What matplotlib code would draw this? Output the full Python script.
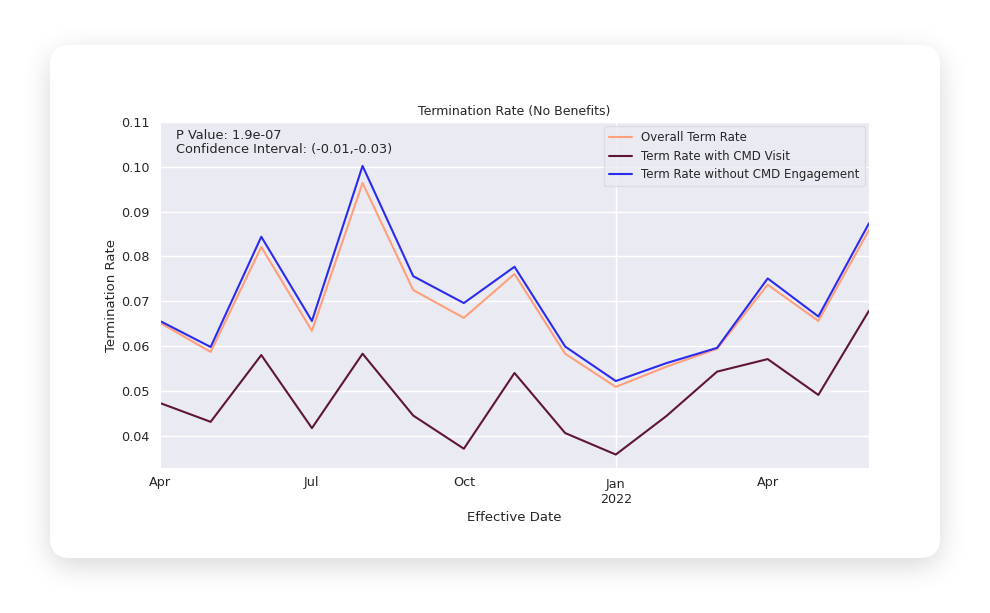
import numpy as np
import matplotlib
matplotlib.use("Agg")
import matplotlib.pyplot as plt
import matplotlib.ticker as mticker
from matplotlib.patches import FancyBboxPatch
import seaborn as sns

# --- Data (monthly, Apr 2021 .. Jun 2022)
months = ["2021-04", "2021-05", "2021-06", "2021-07", "2021-08", "2021-09", "2021-10",
          "2021-11", "2021-12", "2022-01", "2022-02", "2022-03", "2022-04", "2022-05", "2022-06"]
overall_rate = [0.0652, 0.0587, 0.0821, 0.0634, 0.0964, 0.0725, 0.0663, 0.0761,
                0.0583, 0.0509, 0.0554, 0.0594, 0.0737, 0.0656, 0.0859]
cmd_visit_rate = [0.0473, 0.0431, 0.0580, 0.0417, 0.0583, 0.0445, 0.0371, 0.0540,
                  0.0406, 0.0358, 0.0444, 0.0543, 0.0571, 0.0491, 0.0679]
no_cmd_rate = [0.0656, 0.0598, 0.0844, 0.0656, 0.1002, 0.0756, 0.0696, 0.0777,
               0.0599, 0.0522, 0.0562, 0.0596, 0.0751, 0.0666, 0.0874]
series_names = ["Overall Term Rate", "Term Rate with CMD Visit", "Term Rate without CMD Engagement"]
minor_ticks = [0, 3, 6, 12]
minor_labels = ["Apr", "Jul", "Oct", "Apr"]
major_ticks = [9]
major_labels = ["Jan\n2022"]
y_ticks = [0.04, 0.05, 0.06, 0.07, 0.08, 0.09, 0.10, 0.11]
# ---

W, H = 990, 613
sns.set_style("darkgrid")
plt.rcParams['font.family'] = ['DejaVu Sans']

fig = plt.figure(figsize=(W / 100, H / 100), dpi=100)
fig.patch.set_facecolor("white")

# card + soft shadow
bg = fig.add_axes([0, 0, 1, 1], zorder=0)
bg.axis("off")

cx0, cy0, cx1, cy1, rad = 50, 45, 940, 558, 20
yy, xx = np.mgrid[0:H, 0:W] + 0.5
sy = yy - 8  # shadow dropped a bit
dx = np.maximum(np.maximum(cx0 + rad - xx, xx - (cx1 - rad)), 0)
dy = np.maximum(np.maximum(cy0 + rad - sy, sy - (cy1 - rad)), 0)
mask = (np.hypot(dx, dy) <= rad).astype(float)
sigma = 14
k = np.arange(-3 * sigma, 3 * sigma + 1)
kern = np.exp(-k ** 2 / (2 * sigma ** 2))
kern /= kern.sum()
blur = np.apply_along_axis(lambda r: np.convolve(r, kern, mode="same"), 1, mask)
blur = np.apply_along_axis(lambda c: np.convolve(c, kern, mode="same"), 0, blur)
shadow = np.zeros((H, W, 4))
shadow[..., 3] = blur * 0.16
bg.imshow(shadow, extent=[0, W, H, 0], interpolation="bilinear")
bg.add_patch(FancyBboxPatch((cx0, cy0), cx1 - cx0, cy1 - cy0,
                            boxstyle="round,pad=0,rounding_size=%d" % rad,
                            fc="white", ec="none"))
bg.set_xlim(0, W)
bg.set_ylim(H, 0)

# main chart
ax = fig.add_axes([160 / W, 1 - 468 / H, (869 - 160) / W, (468 - 122) / H], zorder=1)
x = np.arange(len(months))
ax.plot(x, overall_rate, color="#FFA07A", lw=1.5, label=series_names[0])
ax.plot(x, cmd_visit_rate, color="#5E1634", lw=1.5, label=series_names[1])
ax.plot(x, no_cmd_rate, color="#2B2BF0", lw=1.5, label=series_names[2])

ax.set_xlim(0, len(months) - 1)
ax.set_ylim(0.0328, 0.11)
ax.set_yticks(y_ticks)
ax.yaxis.set_major_formatter(mticker.FormatStrFormatter("%.2f"))
ax.set_xticks(major_ticks)
ax.set_xticklabels(major_labels)
ax.set_xticks(minor_ticks, minor=True)
ax.set_xticklabels(minor_labels, minor=True)
ax.grid(True, which="major", color="white", lw=1.0)
ax.grid(False, which="minor")
ax.tick_params(axis="both", which="both", labelsize=9.2, pad=4, colors="0.15")

ax.set_title("Termination Rate (No Benefits)", fontsize=9, color="0.15", pad=5)
ax.set_xlabel("Effective Date", fontsize=9.5, color="0.15", labelpad=3)
ax.set_ylabel("Termination Rate", fontsize=9.5, color="0.15", labelpad=2)

ax.text(0.023, 0.98, "P Value: 1.9e-07\nConfidence Interval: (-0.01,-0.03)",
        transform=ax.transAxes, ha="left", va="top", fontsize=9.3, color="0.15",
        linespacing=1.15)
leg = ax.legend(loc="upper right", fontsize=8.5, frameon=True, borderaxespad=0.35,
                handlelength=1.9, labelspacing=0.45, borderpad=0.45)
leg.get_frame().set_facecolor("#EAEAF2")
leg.get_frame().set_edgecolor("#D8D8E0")

fig.savefig("out.png", dpi=100)
